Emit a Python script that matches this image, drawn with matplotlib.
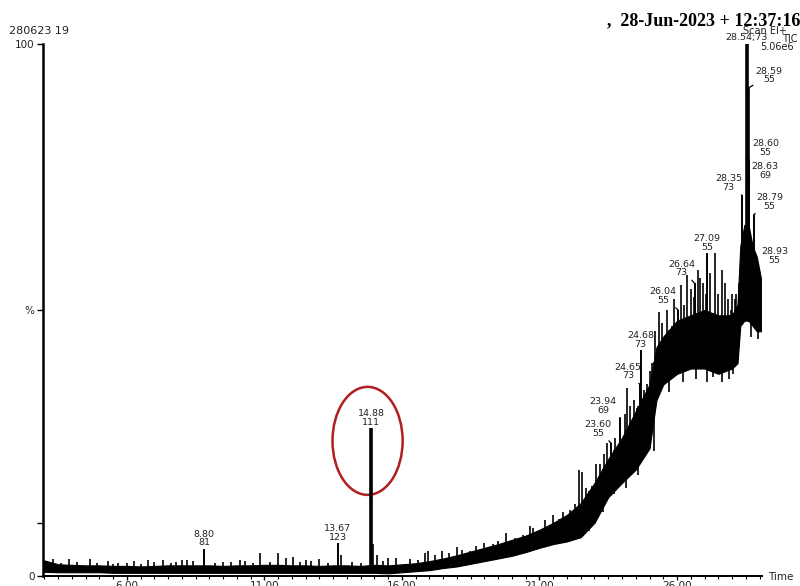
"""
TIC chromatogram (Scan EI+), sample 280623 19
"""

import numpy as np
import matplotlib.pyplot as plt
from matplotlib.patches import Ellipse


# ------------------------------------------------------------------------------
# Data
# ------------------------------------------------------------------------------

# Noise band of the trace: retention time (min), lower and upper edge (%)
env_t = [2.95, 3.5, 4.0, 4.5, 5.0, 5.5, 6.0, 6.5, 7.0, 7.5, 8.0, 8.5, 9.0,
         9.5, 10.0, 10.5, 11.0, 11.5, 12.0, 12.5, 13.0, 13.5, 14.0, 14.5,
         15.0, 15.5, 16.0, 16.5, 17.0, 17.5, 18.0, 18.5, 19.0, 19.5, 20.0,
         20.5, 21.0, 21.5, 22.0, 22.5, 23.0, 23.5, 24.0, 24.5, 25.0, 25.25,
         25.5, 26.0, 26.5, 27.0, 27.5, 28.0, 28.2, 28.3, 28.45, 28.6, 28.75,
         28.9, 29.05]
env_lo = [0.8, 0.7, 0.7, 0.7, 0.7, 0.6, 0.6, 0.6, 0.6, 0.6, 0.6, 0.6, 0.6,
          0.6, 0.6, 0.6, 0.6, 0.6, 0.6, 0.6, 0.6, 0.6, 0.6, 0.6,
          0.6, 0.5, 0.7, 0.9, 1.1, 1.5, 1.8, 2.3, 2.8, 3.3, 3.8,
          4.5, 5.3, 6.0, 6.5, 7.3, 10.0, 14.8, 17.5, 20.0, 24.0, 33.0,
          36.0, 38.0, 39.0, 39.0, 38.0, 39.0, 40.0, 47.0, 48.0, 48.0, 47.0,
          46.0, 46.0]
env_hi = [3.0, 2.2, 2.1, 2.0, 2.0, 1.9, 1.9, 1.8, 1.9, 2.0, 2.0, 2.0, 2.0,
          1.9, 2.0, 2.0, 2.1, 2.1, 2.0, 2.0, 1.9, 2.0, 2.0, 1.9,
          2.1, 2.0, 2.2, 2.4, 2.8, 3.3, 3.9, 4.6, 5.3, 6.0, 6.8,
          7.6, 8.7, 10.0, 11.5, 13.7, 17.5, 22.0, 26.0, 31.0, 36.0, 43.0,
          45.0, 48.0, 49.0, 50.0, 49.0, 49.0, 51.0, 62.0, 66.0, 66.0, 62.0,
          60.0, 56.0]

# Unlabelled noise spikes above the band: time (min), height (%)
spike_t = [3.3, 3.6, 3.9, 4.2, 4.65, 4.9, 5.3, 5.5, 5.67, 6.0, 6.25, 6.5,
           6.76, 7.0, 7.3, 7.6, 7.8, 8.0, 8.2, 8.4, 9.2, 9.5, 9.8, 10.1,
           10.3, 10.6, 10.85, 11.2, 11.5, 11.8, 12.05, 12.3, 12.5, 12.7,
           13.0, 13.3, 13.8, 14.2, 14.5, 14.95, 15.1, 15.3, 15.5, 15.8,
           16.3, 16.6, 16.85, 16.95, 17.2, 17.45, 17.7, 18.0, 18.2, 18.47,
           18.7, 19.0, 19.3, 19.5, 19.8, 20.1, 20.4, 20.65, 20.76, 20.9,
           21.2, 21.5, 21.7, 21.85, 22.1, 22.3, 22.45, 22.55, 22.7, 22.9,
           23.05, 23.2, 23.35, 23.45, 23.75, 24.1, 24.2, 24.3, 24.45, 24.55,
           24.8, 24.9, 25.0, 25.1, 25.2, 25.35, 25.45, 25.56, 25.65, 25.8,
           25.9, 26.15, 26.25, 26.36, 26.5, 26.6, 26.76, 26.85, 26.95, 27.05,
           27.2, 27.38, 27.5, 27.64, 27.75, 27.85, 27.95, 28.0, 28.1, 28.15,
           28.25]
spike_h = [3.2, 2.4, 3.2, 2.6, 3.2, 2.4, 2.8, 2.2, 2.5, 2.4, 2.9, 2.3,
           3.0, 2.6, 3.0, 2.5, 2.7, 3.1, 3.1, 2.8, 2.4, 2.6, 2.6, 3.0,
           2.8, 2.5, 4.3, 2.6, 4.3, 3.4, 3.5, 2.7, 3.1, 2.8,
           3.2, 2.5, 4.0, 2.7, 2.5, 6.0, 4.0, 2.8, 3.4, 3.3,
           3.2, 3.0, 4.3, 4.7, 4.0, 4.7, 4.4, 5.5, 4.8, 4.7,
           5.6, 6.2, 6.0, 6.5, 8.0, 7.2, 7.8, 9.4, 9.0, 8.5,
           10.5, 11.5, 10.8, 12.0, 12.5, 13.5, 20.0, 19.5, 16.5, 17.0,
           21.0, 21.0, 23.0, 25.0, 26.0, 30.5, 35.3, 32.0, 33.0, 31.5,
           35.0, 36.0, 38.5, 40.0, 46.0, 49.6, 47.5, 43.0, 50.0, 47.0,
           52.0, 54.7, 51.0, 56.5, 54.0, 52.5, 57.5, 56.0, 55.0, 53.0,
           57.0, 60.7, 53.0, 57.5, 55.0, 52.0, 50.0, 53.0, 52.0, 53.0,
           55.0]

# Dips below the band: time (min), lowest value (%)
dip_t = [22.8, 23.3, 23.7, 24.15, 24.6, 25.15, 25.7, 26.2, 26.7, 27.1,
         27.3, 27.65, 27.9, 28.05, 28.7, 28.95]
dip_v = [8.5, 12.0, 15.5, 16.5, 19.0, 23.5, 34.5, 36.5, 37.0, 36.5,
         37.5, 36.5, 37.0, 38.0, 45.0, 44.5]

# Labelled peaks: time (min), base peak m/z, height (%)
peak_t = [8.80, 13.67, 14.88, 23.60, 23.94, 24.65, 24.68, 26.04, 26.64,
          27.09, 28.35, 28.54, 28.59, 28.60, 28.63, 28.79, 28.93]
peak_mz = [81, 123, 111, 55, 69, 73, 73, 55, 73, 55, 73, 73, 55, 55, 69,
           55, 55]
peak_h = [5.0, 6.2, 27.8, 25.0, 29.7, 36.0, 42.5, 50.0, 55.0, 60.7, 71.6,
          100.0, 91.7, 78.2, 73.9, 67.9, 57.9]

x_major = [6, 11, 16, 21, 26]
x_labels = ["6.00", "11.00", "16.00", "21.00", "26.00"]


# ------------------------------------------------------------------------------
# Layout helpers
# ------------------------------------------------------------------------------

W, H = 800, 586
PX = 0.72  # points per pixel at dpi 100

# label offsets (pixels) of the text bottom-centre from the peak apex
label_off = [(0, 2), (0, 1), (0, 1), (-13, 5), (-17, 3), (-12, 4), (0, 1),
             (-15, 5), (-13, 6), (0, 1), (-13, 3), (0, 2), (21, 4), (17, 3),
             (16, 3), (16, 4), (17, 3)]

fig = plt.figure(figsize=(W / 100, H / 100), dpi=100)
ax = fig.add_axes([43 / W, 1 - 576 / H, (762 - 43) / W, (576 - 44) / H])

ax.set_xlim(2.95, 29.09)
ax.set_ylim(0, 100)

# ------------------------------------------------------------------------------
# Trace
# ------------------------------------------------------------------------------

ax.fill_between(env_t, env_lo, env_hi, color="black", lw=0.8)

spike_base = np.interp(spike_t, env_t, env_lo)
ax.vlines(spike_t, spike_base, spike_h, color="black", lw=1.2)

dip_top = np.interp(dip_t, env_t, env_hi)
ax.vlines(dip_t, dip_v, dip_top, color="black", lw=1.2)

peak_base = np.interp(peak_t, env_t, env_lo)
peak_lw = [2.6 if h > 90 or t < 20 and h > 20 else 1.4
           for t, h in zip(peak_t, peak_h)]
ax.vlines(peak_t, peak_base, peak_h, color="black", linewidths=peak_lw)

# peak labels
lab_font = dict(fontsize=6.8, color="#222222", family="DejaVu Sans",
                ha="center", va="bottom", linespacing=0.95)
for t, mz, h, (dx, dy) in zip(peak_t, peak_mz, peak_h, label_off):
    if h >= 100:
        text = f"{t:.2f};{mz}"
    else:
        text = f"{t:.2f}\n{mz}"
    arrow = None
    if abs(dx) > 3:
        arrow = dict(arrowstyle="-", color="black", lw=0.9,
                     shrinkA=0, shrinkB=0)
    ax.annotate(text, xy=(t, h), xytext=(dx * PX, dy * PX),
                textcoords="offset points", arrowprops=arrow, **lab_font)

# red ellipse around the 14.88 min peak
ax.add_patch(Ellipse((14.75, 25.4), 2.55, 20.3, fill=False,
                     edgecolor="#B01E1E", lw=1.8, clip_on=False))

# ------------------------------------------------------------------------------
# Axes styling
# ------------------------------------------------------------------------------

for side in ["top", "right"]:
    ax.spines[side].set_visible(False)
ax.spines["left"].set_linewidth(1.8)
ax.spines["bottom"].set_linewidth(1.4)

ax.set_xticks(x_major)
ax.set_xticklabels(x_labels)
ax.set_xticks(np.arange(3.0, 29.01, 0.5), minor=True)
ax.tick_params(axis="x", which="major", direction="out", length=3, width=1,
               pad=0.5, labelsize=7.5, labelcolor="#222222")
ax.tick_params(axis="x", which="minor", direction="out", length=2,
               width=0.8)

ax.set_yticks([0, 10, 50, 100])
ax.set_yticklabels(["0", "", "%", "100"])
ax.tick_params(axis="y", direction="out", length=4, width=1, pad=2,
               labelsize=7.5, labelcolor="#222222")

# ------------------------------------------------------------------------------
# Header texts
# ------------------------------------------------------------------------------

fig.text(9 / W, 1 - 31 / H, "280623 19", fontsize=8, color="#222222",
         ha="left", va="center")
fig.text(607 / W, 1 - 25 / H, ",  28-Jun-2023 + 12:37:16",
         fontsize=13, fontweight="bold", family="Liberation Serif",
         ha="left", va="baseline")
fig.text(743 / W, 1 - 31 / H, "Scan EI+", fontsize=7, color="#222222",
         ha="left", va="center")
fig.text(782 / W, 1 - 39 / H, "TIC", fontsize=7, color="#222222",
         ha="left", va="center")
fig.text(760 / W, 1 - 47 / H, "5.06e6", fontsize=7, color="#222222",
         ha="left", va="center")
fig.text(768 / W, 1 - 577 / H, "Time", fontsize=7.5, color="#222222",
         ha="left", va="center")

fig.savefig("out.png", dpi=100)
